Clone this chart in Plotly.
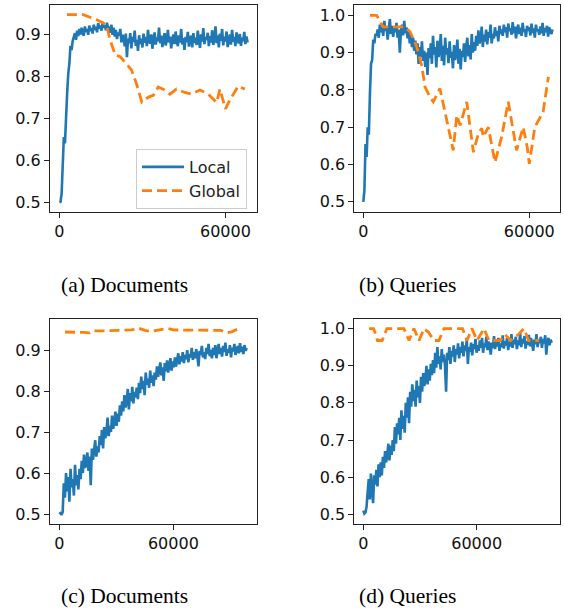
import numpy as np
import plotly.graph_objects as go

# ---------------- data ----------------
local_a = [
    0.500, 0.501, 0.520, 0.605, 0.655, 0.640, 0.720, 0.760, 0.805, 0.830, 0.872, 0.862, 0.884, 0.893, 0.902, 0.886,
    0.908, 0.895, 0.912, 0.899, 0.915, 0.903, 0.896, 0.918, 0.905, 0.912, 0.898, 0.920, 0.907, 0.914, 0.901,
    0.922, 0.910, 0.917, 0.904, 0.926, 0.913, 0.920, 0.908, 0.929, 0.915, 0.921, 0.909, 0.927, 0.912, 0.918,
    0.903, 0.922, 0.898, 0.915, 0.894, 0.910, 0.888, 0.904, 0.896, 0.912, 0.880, 0.898, 0.892, 0.871, 0.901,
    0.845, 0.889, 0.878, 0.902, 0.866,
    0.893, 0.881, 0.908, 0.872, 0.886, 0.860, 0.897, 0.876, 0.889, 0.868, 0.901, 0.879, 0.893, 0.871, 0.910,
    0.884, 0.877, 0.899, 0.865, 0.888, 0.904, 0.875, 0.892, 0.883, 0.915, 0.878, 0.896, 0.869, 0.889, 0.902,
    0.873, 0.885, 0.910, 0.880, 0.894, 0.866, 0.887, 0.899, 0.876, 0.906, 0.884, 0.871, 0.897, 0.880, 0.912,
    0.875, 0.890, 0.862, 0.893, 0.881, 0.905, 0.870, 0.888, 0.896, 0.868, 0.902, 0.879, 0.891, 0.874, 0.908,
    0.885, 0.867, 0.899, 0.882, 0.914, 0.876, 0.893, 0.886, 0.903, 0.871, 0.895, 0.880, 0.909, 0.874, 0.890,
    0.918, 0.878, 0.897, 0.868, 0.901, 0.884, 0.912, 0.873, 0.894, 0.882, 0.906, 0.869, 0.889, 0.899, 0.875,
    0.910, 0.882, 0.893, 0.871, 0.904, 0.886, 0.878, 0.900, 0.872, 0.891, 0.883, 0.905, 0.876, 0.894, 0.880,
]
global_a_x = [2700, 5000, 8600, 13500, 17000, 18300, 20200, 22000, 26000, 27800, 29800, 32200, 33900,
              35700, 37500, 39900, 42300, 45300, 47700, 50800, 53800, 56800, 58000, 60000, 61500, 64600, 67000]
global_a = [0.946, 0.946, 0.946, 0.934, 0.922, 0.886, 0.850, 0.846, 0.815, 0.783, 0.738, 0.750, 0.754,
            0.774, 0.769, 0.757, 0.769, 0.761, 0.757, 0.767, 0.757, 0.737, 0.769, 0.722, 0.742, 0.776, 0.769]

local_b = [
    0.500, 0.530, 0.655, 0.620, 0.700, 0.680, 0.790, 0.870, 0.880, 0.935, 0.925, 0.950, 0.945,
    0.962, 0.940, 0.975, 0.955, 0.968, 0.945, 0.985, 0.958, 0.970, 0.935, 0.965, 0.990, 0.950, 0.972,
    0.942, 0.966, 0.955, 0.980, 0.940, 0.962, 0.900, 0.958, 0.975, 0.946, 0.985, 0.952, 0.968,
    0.938, 0.960, 0.925, 0.948, 0.915, 0.940, 0.905, 0.932, 0.895, 0.925, 0.870, 0.915, 0.888, 0.930, 0.878, 0.905,
    0.862, 0.900, 0.840, 0.912, 0.885, 0.925, 0.870, 0.945, 0.895, 0.915, 0.860, 0.932, 0.888, 0.905, 0.950,
    0.878, 0.918, 0.866, 0.940, 0.895, 0.912, 0.872, 0.930, 0.886, 0.902, 0.858, 0.920, 0.880, 0.898, 0.935,
    0.870, 0.910, 0.855, 0.905, 0.888, 0.925, 0.875, 0.915, 0.940, 0.890, 0.920, 0.882, 0.950, 0.900, 0.928,
    0.905, 0.945, 0.918, 0.960, 0.925, 0.935, 0.970, 0.915, 0.948, 0.930, 0.962, 0.922, 0.955, 0.940, 0.975,
    0.925, 0.950, 0.938, 0.968, 0.945, 0.958, 0.930, 0.972, 0.950, 0.962,
    0.945, 0.975, 0.955, 0.968, 0.940, 0.978, 0.958, 0.965, 0.948, 0.982, 0.952, 0.970, 0.938, 0.962, 0.975,
    0.950, 0.967, 0.945, 0.980, 0.955, 0.963, 0.942, 0.972, 0.958, 0.968, 0.946, 0.978, 0.953, 0.965, 0.940,
    0.975, 0.957, 0.962, 0.948, 0.970, 0.952, 0.980, 0.945, 0.966, 0.955, 0.972, 0.943, 0.968, 0.958, 0.950, 0.962,
]
global_b_x = [2400, 4800, 7200, 9600, 15000, 16900, 19300, 21100, 22300, 24100, 25300, 27700, 30100, 32500,
              33800, 35000, 37400, 39800, 41600, 42800, 43400, 45200, 47600, 50000, 52400, 55400, 57800,
              59300, 60000, 62000, 65000, 66900]
global_b = [1.000, 1.000, 0.969, 0.969, 0.969, 0.956, 0.916, 0.866, 0.808, 0.781, 0.768, 0.804, 0.719, 0.638,
            0.732, 0.705, 0.768, 0.633, 0.683, 0.697, 0.674, 0.700, 0.606, 0.674, 0.768, 0.638, 0.700,
            0.645, 0.602, 0.700, 0.741, 0.835]

local_c = [
    0.500, 0.502, 0.498, 0.505, 0.575,
    0.540, 0.600, 0.555, 0.590, 0.530, 0.610, 0.565, 0.585, 0.545, 0.620, 0.570, 0.595, 0.560,
    0.610, 0.585, 0.630, 0.600, 0.645, 0.612, 0.625, 0.650, 0.605, 0.640, 0.570, 0.660, 0.632, 0.655, 0.680, 0.640, 0.665,
    0.650, 0.690, 0.668, 0.705, 0.660, 0.712, 0.685, 0.700, 0.735, 0.690, 0.715, 0.700, 0.740, 0.708, 0.725, 0.750, 0.715,
    0.745, 0.725, 0.765, 0.740, 0.775, 0.750, 0.790, 0.760, 0.772, 0.805, 0.755, 0.795, 0.775, 0.810, 0.770, 0.798, 0.785,
    0.808, 0.780, 0.820, 0.795, 0.835, 0.805, 0.825, 0.790, 0.845, 0.815, 0.830, 0.808, 0.850, 0.820, 0.838, 0.812, 0.845,
    0.828, 0.860, 0.835, 0.852, 0.870, 0.838, 0.858, 0.825, 0.868, 0.848, 0.875, 0.845, 0.862, 0.880, 0.850, 0.872, 0.858,
    0.882, 0.860, 0.878, 0.892, 0.865, 0.885, 0.872, 0.895, 0.868, 0.888, 0.878, 0.900, 0.870, 0.890, 0.882, 0.905, 0.876,
    0.895, 0.880, 0.902, 0.885, 0.860, 0.898, 0.888, 0.910, 0.882, 0.895, 0.878, 0.905, 0.890, 0.915, 0.885, 0.900, 0.880,
    0.905, 0.888, 0.912, 0.880, 0.898, 0.915, 0.890, 0.905, 0.884, 0.910, 0.895, 0.918, 0.886, 0.902, 0.893, 0.912,
    0.882, 0.906, 0.897, 0.915, 0.888, 0.903, 0.910, 0.892, 0.917, 0.895, 0.908, 0.890, 0.912, 0.898, 0.905,
]
global_c_x = [3000, 8000, 13000, 16000, 18000, 23000, 28000, 33000, 38000, 42000, 45000, 48000, 53000,
              57000, 60000, 65000, 70000, 75000, 80000, 85000, 88000, 91000, 94000]
global_c = [0.944, 0.944, 0.943, 0.942, 0.947, 0.947, 0.948, 0.948, 0.949, 0.953, 0.948, 0.945, 0.950,
            0.953, 0.949, 0.949, 0.949, 0.949, 0.949, 0.948, 0.942, 0.945, 0.952]

local_d = [
    0.510, 0.502, 0.505, 0.520,
    0.560, 0.595, 0.540, 0.610, 0.570, 0.530, 0.605, 0.580, 0.620, 0.575, 0.635, 0.600,
    0.640, 0.605, 0.655, 0.625, 0.670, 0.640, 0.660, 0.690, 0.645, 0.685, 0.660, 0.700,
    0.670, 0.735, 0.690, 0.745, 0.715, 0.760, 0.700, 0.780, 0.730, 0.765, 0.720, 0.800,
    0.760, 0.815, 0.745, 0.830, 0.790, 0.850, 0.805, 0.835, 0.790, 0.860, 0.815, 0.845,
    0.800, 0.870, 0.830, 0.880, 0.845, 0.865, 0.900, 0.850, 0.890, 0.860, 0.905, 0.875,
    0.915, 0.880, 0.935, 0.895, 0.950, 0.905, 0.925, 0.890, 0.945, 0.910, 0.930, 0.900,
    0.830, 0.935, 0.915, 0.950, 0.905, 0.940, 0.925, 0.955, 0.910, 0.945, 0.930, 0.960,
    0.920, 0.950, 0.935, 0.965, 0.925, 0.955, 0.940, 0.970, 0.905, 0.950, 0.938, 0.962, 0.928, 0.958, 0.945, 0.972, 0.935, 0.955,
    0.940, 0.968, 0.948, 0.975, 0.935, 0.960, 0.950, 0.978, 0.942, 0.965, 0.955, 0.930, 0.962, 0.948,
    0.980, 0.945, 0.968, 0.952, 0.975, 0.940, 0.960, 0.950, 0.982, 0.946, 0.966, 0.955, 0.975, 0.942,
    0.965, 0.952, 0.985, 0.948, 0.970, 0.958, 0.978, 0.945, 0.968, 0.955, 0.988, 0.950, 0.972, 0.960, 0.980,
    0.946, 0.966, 0.957, 0.983, 0.952, 0.975, 0.962, 0.940, 0.970, 0.958, 0.985, 0.950, 0.968, 0.962, 0.978,
    0.948, 0.972, 0.960, 0.982, 0.930, 0.965, 0.975, 0.955, 0.970, 0.962,
]
global_d_x = [3000, 5500, 7500, 10000, 12500, 17000, 21500, 24200, 26800, 29500, 32100, 34500, 37400, 40000,
              42700, 46000, 50000, 52500, 54900, 57500, 60200, 63900, 66500, 70000, 72500, 75000, 78000,
              82000, 85000, 87500, 90000, 93000]
global_d = [1.000, 1.000, 0.968, 0.968, 1.000, 1.000, 1.000, 0.968, 1.000, 0.968, 1.000, 0.990, 0.968, 0.968,
            1.000, 1.000, 1.000, 1.000, 0.968, 1.000, 0.968, 1.000, 0.968, 0.968, 0.968, 0.984, 0.968,
            0.984, 1.000, 0.968, 0.968, 0.968]

last_step = {"a": 68000, "b": 68400, "c": 98600, "d": 99700}
x_ticks = [0, 60000]
x_tick_labels = ["0", "60000"]
y_ticks_acc = [0.5, 0.6, 0.7, 0.8, 0.9]
y_ticks_q = [0.5, 0.6, 0.7, 0.8, 0.9, 1.0]
captions = ["(a) Documents", "(b) Queries", "(c) Documents", "(d) Queries"]
legend_names = ["Local", "Global"]

# ---------------- figure ----------------
W, H = 564, 610
BLUE = "#1f77b4"
ORANGE = "#ff7f0e"

panels = [
    ("a", local_a, global_a_x, global_a, (50, 257), (5, 211.5), (-3400, 71400), (0.478, 0.969), y_ticks_acc),
    ("b", local_b, global_b_x, global_b, (354.3, 560), (5, 211.5), (-3250, 71100), (0.474, 1.0277), y_ticks_q),
    ("c", local_c, global_c_x, global_c, (50, 257), (319.3, 524), (-4900, 104000), (0.4756, 0.975), y_ticks_acc),
    ("d", local_d, global_d_x, global_d, (354.3, 560), (319.3, 524), (-4760, 104070), (0.474, 1.025), y_ticks_q),
]

fig = go.Figure()
layout = dict(
    width=W, height=H,
    margin=dict(l=0, r=0, t=0, b=0),
    paper_bgcolor="white", plot_bgcolor="white",
    font=dict(family="DejaVu Sans", size=16, color="black"),
    showlegend=True,
    legend=dict(
        x=136 / W, y=1 - 149 / H, xanchor="left", yanchor="top",
        bgcolor="white", bordercolor="#cccccc", borderwidth=1,
        font=dict(family="DejaVu Sans", size=16, color="#222222"),
        itemwidth=42, tracegroupgap=0,
    ),
    annotations=[],
)

for i, (key, loc, gx, gy, xd, yd, xr, yr, yt) in enumerate(panels):
    n = i + 1
    xa = "x" if n == 1 else f"x{n}"
    ya = "y" if n == 1 else f"y{n}"
    steps = np.linspace(0, last_step[key], len(loc))
    fig.add_trace(go.Scatter(
        x=steps, y=loc, mode="lines", name=legend_names[0],
        line=dict(color=BLUE, width=2.6), xaxis=xa, yaxis=ya, showlegend=(n == 1),
    ))
    fig.add_trace(go.Scatter(
        x=gx, y=gy, mode="lines", name=legend_names[1],
        line=dict(color=ORANGE, width=2.8, dash="10px,5px"), xaxis=xa, yaxis=ya, showlegend=(n == 1),
    ))
    axis_common = dict(
        showline=True, linecolor="#222222", linewidth=1, mirror=True,
        ticks="outside", ticklen=5, tickwidth=1, tickcolor="#222222",
        showgrid=False, zeroline=False, fixedrange=True,
        tickfont=dict(family="DejaVu Sans", size=16, color="#111111"),
    )
    layout["xaxis" if n == 1 else f"xaxis{n}"] = dict(
        axis_common, domain=[xd[0] / W, xd[1] / W], range=list(xr),
        tickvals=x_ticks, ticktext=x_tick_labels, anchor=ya,
    )
    layout["yaxis" if n == 1 else f"yaxis{n}"] = dict(
        axis_common, domain=[1 - yd[1] / H, 1 - yd[0] / H], range=list(yr),
        tickvals=yt, tickformat=".1f", anchor=xa,
    )

cap_pos = [(125, 285), (407, 285), (125, 596), (407, 596)]
for text, (cx, cy) in zip(captions, cap_pos):
    layout["annotations"].append(dict(
        text=text, x=cx / W, y=1 - cy / H, xref="paper", yref="paper",
        xanchor="center", yanchor="middle", showarrow=False,
        font=dict(family="Liberation Serif", size=21.5, color="black"),
    ))

fig.update_layout(**layout)
fig.write_html(
    "out.html",
    config={"displayModeBar": False, "staticPlot": True},
    post_script="document.body.style.margin='0';document.body.style.padding='0';document.body.style.overflow='hidden';",
)
